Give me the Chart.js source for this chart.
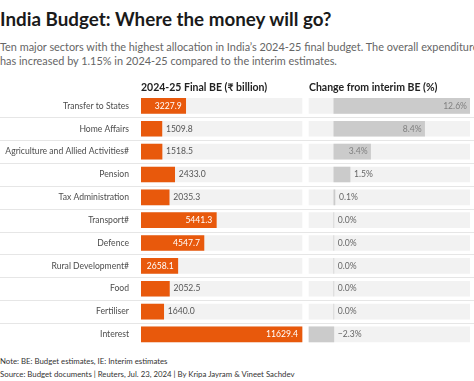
<!DOCTYPE html>
<html>
<head>
<meta charset="utf-8">
<script src="https://cdn.jsdelivr.net/npm/chart.js@4.4.0/dist/chart.umd.min.js"></script>
<style>
  html, body { margin: 0; padding: 0; background: #fff; }
  body { width: 474px; height: 381px; overflow: hidden; position: relative; font-family: Lato, "Noto Sans", sans-serif; }
  #title { position: absolute; left: 0; top: 6px; font-size: 18.8px; font-weight: bold; color: #1a1a1a; line-height: 26px; white-space: nowrap; }
  #subtitle { position: absolute; left: 0; top: 40px; font-size: 10.9px; color: #666; line-height: 13.5px; white-space: nowrap; }
  #wrap { position: absolute; left: 0; top: 78px; width: 474px; height: 277px; }
  #note { position: absolute; left: 0; top: 355px; font-size: 7.8px; color: #333; line-height: 13px; white-space: nowrap; }
</style>
</head>
<body>
<div id="title">India Budget: Where the money will go?</div>
<div id="subtitle">Ten major sectors with the highest allocation in India’s 2024-25 final budget. The overall expenditure<br>has increased by 1.15% in 2024-25 compared to the interim estimates.</div>
<div id="wrap"><canvas id="budgetChart" width="474" height="277"></canvas></div>
<div id="note">Note: BE: Budget estimates, IE: Interim estimates<br>Source: Budget documents | Reuters, Jul. 23, 2024 | By Kripa Jayram &amp; Vineet Sachdev</div>
<script>
const sectors = [
    "Transfer to States",
    "Home Affairs",
    "Agriculture and Allied Activities#",
    "Pension",
    "Tax Administration",
    "Transport#",
    "Defence",
    "Rural Development#",
    "Food",
    "Fertiliser",
    "Interest"
]
const finalBE = [3227.9, 1509.8, 1518.5, 2433.0, 2035.3, 5441.3, 4547.7, 2658.1, 2052.5, 1640.0, 11629.4]
const changePct = [12.6, 8.4, 3.4, 1.5, 0.1, 0.0, 0.0, 0.0, 0.0, 0.0, -2.3]
const headers = ["2024-25 Final BE (₹ billion)", "Change from interim BE (%)"]

const FONT = "Lato, 'Noto Sans', sans-serif"
const ORANGE = "#e8590c"
const GREY_BAR = "#cbcbcb"
const BAND = "#f2f2f2"

// two panels of equal width sharing one chart area
const panelW = 161
const gap = 7
const total = panelW * 2 + gap
const beMax = Math.max(...finalBE)
const chgMin = Math.min(...changePct)
const chgMax = Math.max(...changePct)

const rowLines = {
    id: "rowLines",
    beforeDatasetsDraw(chart) {
        const ctx = chart.ctx
        const y = chart.scales.y
        ctx.save()
        ctx.strokeStyle = "#e6e6e6"
        ctx.lineWidth = 1
        for (let i = 1; i < sectors.length; i++) {
            const yy = Math.round((y.getPixelForValue(i - 1) + y.getPixelForValue(i)) / 2) + 0.5
            ctx.beginPath()
            ctx.moveTo(0, yy)
            ctx.lineTo(chart.width, yy)
            ctx.stroke()
        }
        ctx.restore()
    },
    afterDraw(chart) {
        const ctx = chart.ctx
        ctx.save()
        ctx.font = "bold 10.5px " + FONT
        ctx.fillStyle = "#222"
        ctx.textBaseline = "middle"
        ctx.fillText(headers[0], chart.scales.x.getPixelForValue(0), 10)
        ctx.fillText(headers[1], chart.scales.x2.getPixelForValue(chgMin), 10)
        ctx.restore()
    }
}

const valueLabels = {
    id: "valueLabels",
    afterDatasetsDraw(chart) {
        const ctx = chart.ctx
        ctx.save()
        ctx.font = "8.6px " + FONT
        ctx.textBaseline = "middle"
        chart.getDatasetMeta(0).data.forEach((bar, i) => {
            const txt = finalBE[i].toFixed(1)
            const tw = ctx.measureText(txt).width
            const w = bar.x - bar.base
            if (w > tw + 8) {
                ctx.textAlign = "right"
                ctx.fillStyle = "#fff"
                ctx.fillText(txt, bar.x - 4, bar.y)
            } else {
                ctx.textAlign = "left"
                ctx.fillStyle = "#555"
                ctx.fillText(txt, bar.x + 4, bar.y)
            }
        })
        chart.getDatasetMeta(1).data.forEach((bar, i) => {
            const v = changePct[i]
            const txt = (v < 0 ? "\u2212" : "") + Math.abs(v).toFixed(1) + "%"
            const tw = ctx.measureText(txt).width
            const w = bar.x - bar.base
            if (v > 0 && w > tw + 6) {
                ctx.textAlign = "right"
                ctx.fillStyle = "#808080"
                ctx.fillText(txt, bar.x - 3, bar.y)
            } else {
                ctx.textAlign = "left"
                ctx.fillStyle = "#666"
                ctx.fillText(txt, Math.max(bar.x, bar.base) + 4, bar.y)
            }
        })
        ctx.restore()
    }
}

new Chart(document.getElementById("budgetChart").getContext("2d"), {
    type: "bar",
    data: {
        labels: sectors,
        datasets: [
            { data: finalBE, xAxisID: "x", backgroundColor: ORANGE },
            { data: changePct, xAxisID: "x2", backgroundColor: GREY_BAR },
            { data: sectors.map(() => [0, beMax]), xAxisID: "x", backgroundColor: BAND },
            { data: sectors.map(() => [chgMin, chgMax]), xAxisID: "x2", backgroundColor: BAND }
        ]
    },
    options: {
        indexAxis: "y",
        responsive: false,
        animation: false,
        events: [],
        datasets: {
            bar: { grouped: false, barThickness: 15, borderWidth: 0 }
        },
        layout: { padding: { top: 16.5, bottom: 0, right: 4, left: 0 } },
        plugins: { legend: { display: false }, tooltip: { enabled: false } },
        scales: {
            y: {
                grid: { display: false },
                border: { display: false },
                ticks: { color: "#4d4d4d", padding: 4, font: { size: 8.6, family: FONT } },
                afterFit(s) { s.width = 141 }
            },
            x: { display: false, min: 0, max: beMax * total / panelW },
            x2: { display: false, min: chgMax - (chgMax - chgMin) * total / panelW, max: chgMax }
        }
    },
    plugins: [rowLines, valueLabels]
})
</script>
</body>
</html>
